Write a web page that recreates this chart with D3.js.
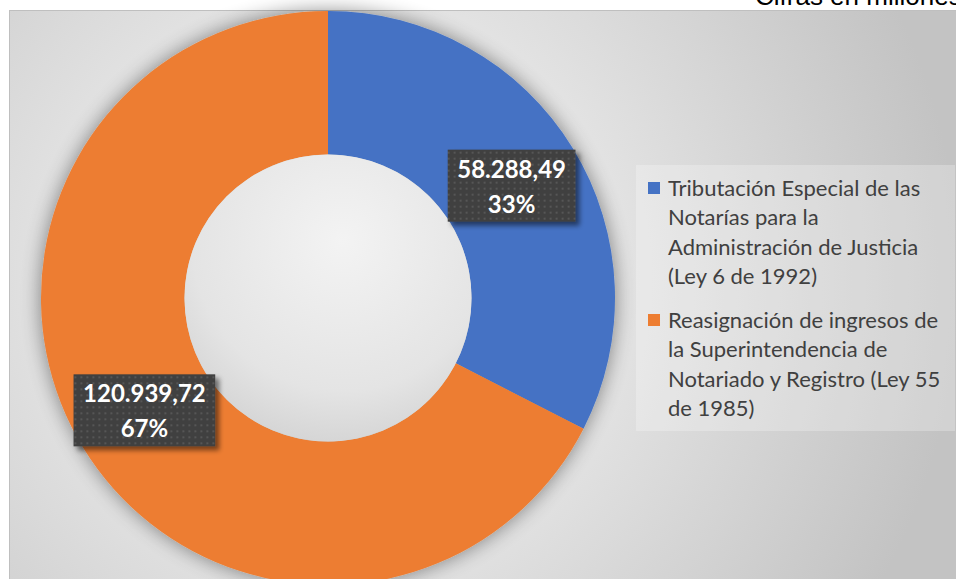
<!DOCTYPE html>
<html>
<head>
<meta charset="utf-8">
<script src="https://cdn.jsdelivr.net/npm/d3@7"></script>
<style>
body { margin: 0; background: #fff; }
svg { display: block; }
</style>
</head>
<body>
<div id="canvas"></div>
<script>
var width = 956;
var height = 579;

// data
var categories = [
	["Tributación Especial de las", "Notarías para la", "Administración de Justicia", "(Ley 6 de 1992)"],
	["Reasignación de ingresos de", "la Superintendencia de", "Notariado y Registro (Ley 55", "de 1985)"]
];
var values = [58288.49, 120939.72];
var colors = ["#4472C4", "#ED7D31"];
var title = "Cifras en millones";

var es = d3.formatLocale({decimal: ",", thousands: ".", grouping: [3], currency: ["$", ""]});
var fmtVal = es.format(",.2f");
var fmtPct = d3.format(".0%");

var svg = d3.select("#canvas")
	.append("svg")
	.attr("width", width)
	.attr("height", height);

var defs = svg.append("defs");

var bg = defs.append("radialGradient")
	.attr("id", "bgGrad")
	.attr("gradientUnits", "userSpaceOnUse")
	.attr("cx", 340).attr("cy", 280).attr("r", 620);
bg.append("stop").attr("offset", 0).attr("stop-color", "#f2f2f2");
bg.append("stop").attr("offset", 0.45).attr("stop-color", "#e3e3e3");
bg.append("stop").attr("offset", 1).attr("stop-color", "#c3c3c3");

var hole = defs.append("radialGradient")
	.attr("id", "holeGrad")
	.attr("cx", 0.55).attr("cy", 0.3).attr("r", 0.75);
hole.append("stop").attr("offset", 0).attr("stop-color", "#f3f3f3");
hole.append("stop").attr("offset", 0.7).attr("stop-color", "#e4e4e4");
hole.append("stop").attr("offset", 1).attr("stop-color", "#d2d2d2");

var glow = defs.append("filter").attr("id", "glow")
	.attr("x", -0.2).attr("y", -0.2).attr("width", 1.4).attr("height", 1.4);
glow.append("feGaussianBlur").attr("in", "SourceAlpha").attr("stdDeviation", 10).attr("result", "b");
glow.append("feComponentTransfer").attr("in", "b").attr("result", "s")
	.append("feFuncA").attr("type", "linear").attr("slope", 0.45);
var gm = glow.append("feMerge");
gm.append("feMergeNode").attr("in", "s");
gm.append("feMergeNode").attr("in", "SourceGraphic");

var shadow = defs.append("filter").attr("id", "shadow")
	.attr("x", -0.2).attr("y", -0.3).attr("width", 1.5).attr("height", 1.7);
shadow.append("feGaussianBlur").attr("in", "SourceAlpha").attr("stdDeviation", 2.5).attr("result", "b");
shadow.append("feOffset").attr("in", "b").attr("dx", 4).attr("dy", 4).attr("result", "o");
shadow.append("feComponentTransfer").attr("in", "o").attr("result", "s")
	.append("feFuncA").attr("type", "linear").attr("slope", 0.5);
var sm = shadow.append("feMerge");
sm.append("feMergeNode").attr("in", "s");
sm.append("feMergeNode").attr("in", "SourceGraphic");

var dots = defs.append("pattern")
	.attr("id", "dots")
	.attr("patternUnits", "userSpaceOnUse")
	.attr("width", 6).attr("height", 6);
dots.append("rect").attr("width", 6).attr("height", 6).attr("fill", "#3f3f3f");
dots.append("rect").attr("x", 2).attr("y", 2).attr("width", 2).attr("height", 2).attr("fill", "#575757");

// chart area
svg.append("rect")
	.attr("x", 9.5).attr("y", 10.5)
	.attr("width", width).attr("height", height)
	.attr("fill", "url(#bgGrad)")
	.attr("stroke", "#bfbfbf");

// title, cut by the page edge as in the source
svg.append("text")
	.attr("x", 755).attr("y", 5)
	.attr("font-family", "Liberation Sans, Arial, sans-serif")
	.attr("font-size", 26)
	.attr("fill", "#000")
	.text(title);

var cx = 328, cy = 298;
var outerR = 287, innerR = 143.5;

var pie = d3.pie().sort(null);
var arc = d3.arc().innerRadius(innerR).outerRadius(outerR);
var labelArc = d3.arc().innerRadius((innerR + outerR) / 2).outerRadius((innerR + outerR) / 2);
var total = d3.sum(values);

var g = svg.append("g").attr("transform", "translate(" + cx + "," + cy + ")");

g.append("g").attr("filter", "url(#glow)")
	.selectAll("path")
	.data(pie(values))
	.enter()
	.append("path")
	.attr("d", arc)
	.attr("fill", function(d, i) { return colors[i]; });

g.append("circle")
	.attr("r", innerR)
	.attr("fill", "url(#holeGrad)");

// data labels
var lbl = g.selectAll("g.lbl")
	.data(pie(values))
	.enter()
	.append("g")
	.attr("class", "lbl")
	.attr("transform", function(d) { var c = labelArc.centroid(d); return "translate(" + c[0] + "," + c[1] + ")"; });

lbl.each(function(d) {
	var el = d3.select(this);
	var t1 = fmtVal(d.value);
	var t2 = fmtPct(d.value / total);
	var box = el.append("rect").attr("fill", "url(#dots)").attr("filter", "url(#shadow)");
	var tx = el.append("text")
		.attr("text-anchor", "middle")
		.attr("font-family", "Lato, 'Open Sans', sans-serif")
		.attr("font-weight", "bold")
		.attr("font-size", 24)
		.attr("fill", "#fff");
	tx.append("tspan").attr("x", 0).attr("y", -8).text(t1);
	tx.append("tspan").attr("x", 0).attr("y", 27).text(t2);
	var w = tx.node().getBBox().width + 19;
	box.attr("x", -w / 2).attr("y", -36).attr("width", w).attr("height", 72);
});

// legend
svg.append("rect")
	.attr("x", 636).attr("y", 165)
	.attr("width", 319).attr("height", 266)
	.attr("fill", "#ffffff").attr("fill-opacity", 0.25);

var legend = svg.selectAll("g.leg")
	.data(categories)
	.enter()
	.append("g")
	.attr("class", "leg")
	.attr("transform", function(d, i) { return "translate(648," + (188 + i * 132) + ")"; });

legend.append("rect")
	.attr("x", 0).attr("y", -6)
	.attr("width", 12).attr("height", 12)
	.attr("fill", function(d, i) { return colors[i]; });

legend.append("text")
	.attr("font-family", "Lato, 'Open Sans', sans-serif")
	.attr("font-size", 22)
	.attr("fill", "#404040")
	.selectAll("tspan")
	.data(function(d) { return d; })
	.enter()
	.append("tspan")
	.attr("x", 20)
	.attr("y", function(d, i) { return 7.5 + i * 29.5; })
	.text(function(d) { return d; });
</script>
</body>
</html>
